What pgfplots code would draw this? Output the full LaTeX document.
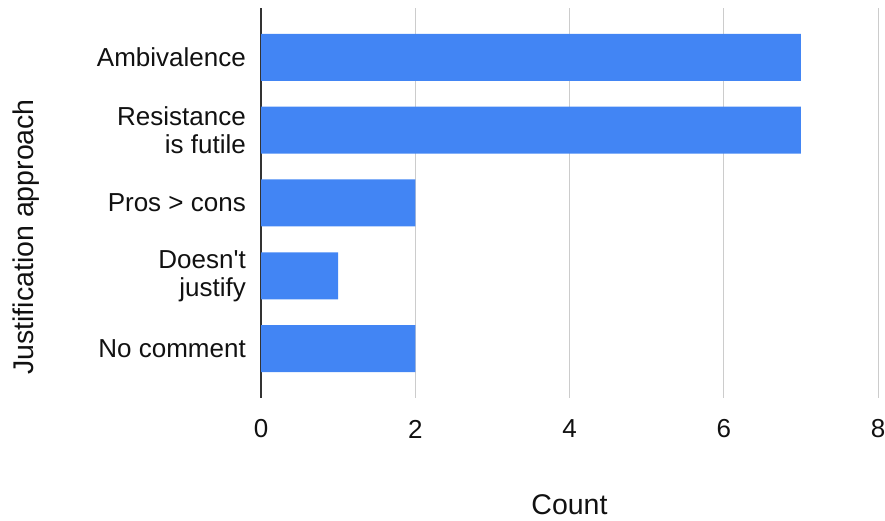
\documentclass[border=0pt]{standalone}
\usepackage{fontspec}
\setmainfont{Liberation Sans}
\newfontfamily\plainfont{Liberation Sans}
\usepackage{pgfplots}
\pgfplotsset{compat=1.18}
\definecolor{barblue}{HTML}{4285F4}
\definecolor{gridgray}{HTML}{CCCCCC}
\definecolor{axisgray}{HTML}{333333}
\definecolor{txt}{HTML}{111111}
\begin{document}
\begin{tikzpicture}[x=1pt,y=1pt]
\useasboundingbox (0,0) rectangle (885,521);
\begin{axis}[
  at={(261pt,123pt)}, anchor=south west,
  scale only axis, width=617pt, height=390pt,
  xbar, bar width=47pt,
  xmin=0, xmax=8, ymin=-0.678, ymax=4.678,
  xtick={2,4,6,8},
  extra x ticks={0},
  extra x tick style={grid=major, major grid style={draw=axisgray, line width=1.2pt}},
  ytick={0,1,2,3,4},
  yticklabels={No comment, {Doesn{\plainfont\symbol{39}}t\\justify}, Pros > cons, Resistance\\is futile, Ambivalence},
  xmajorgrids, major grid style={draw=gridgray, line width=1pt},
  major tick length=0pt,
  axis line style={draw=none},
  /pgf/number format/assume math mode=true,
  font=\fontsize{26}{28}\selectfont,
  tick label style={text=txt, inner sep=0pt},
  xticklabel style={anchor=center, yshift=-31pt},
  yticklabel style={align=right, anchor=east, xshift=-15pt},
  xlabel={Count}, ylabel={Justification approach},
  label style={font=\fontsize{28.5}{30}\selectfont},
  xlabel style={at={(axis description cs:0.5,-0.274)}, anchor=center, text=txt},
  ylabel style={at={(axis description cs:-0.381,0.413)}, anchor=center, rotate=0, text=txt},
]
\addplot[fill=barblue, draw=none] coordinates {(2,0) (1,1) (2,2) (7,3) (7,4)};
\end{axis}
\end{tikzpicture}
\end{document}
